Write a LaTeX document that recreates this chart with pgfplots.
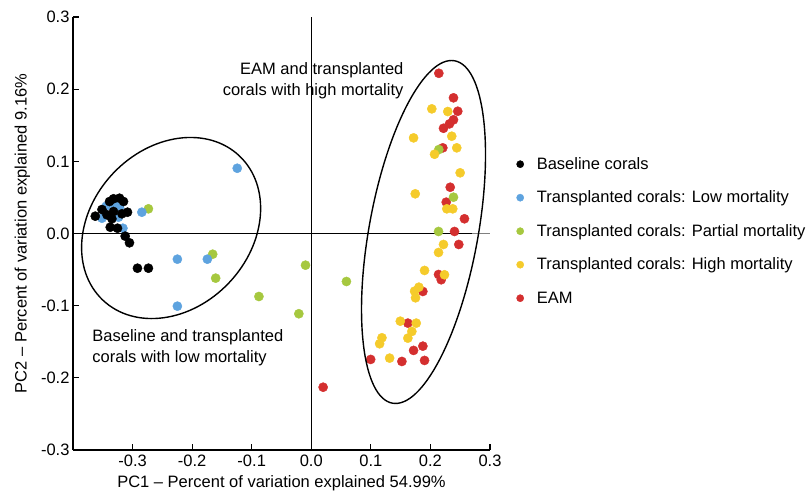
\documentclass[border=0pt]{standalone}
\usepackage{fontspec}
\setmainfont{Liberation Sans}
\usepackage{pgfplots}
\pgfplotsset{compat=1.18}

\definecolor{cBlue}{HTML}{5EA3DF}
\definecolor{cGreen}{HTML}{A6C83F}
\definecolor{cYellow}{HTML}{F5CB2B}
\definecolor{cRed}{HTML}{D42F2F}

\begin{document}
\begin{tikzpicture}[font=\fontsize{16.5}{21}\selectfont]
\begin{axis}[
  name=ax,
  scale only axis, width=417pt, height=433pt,
  xmin=-0.4, xmax=0.3, ymin=-0.3, ymax=0.3,
  axis x line=bottom, axis y line=left,
  axis line style={-, line width=1.2pt},
  tick align=inside, major tick length=6pt,
  tick style={line width=1.2pt, black},
  xtick={-0.3,-0.2,-0.1,0,0.1,0.2,0.3},
  ytick={-0.3,-0.2,-0.1,0,0.1,0.2,0.3},
  xticklabel style={yshift=-1.5pt},
  /pgf/number format/.cd, fixed, fixed zerofill, precision=1, assume math mode=true,
  /pgfplots/.cd,
  xlabel={PC1 -- Percent of variation explained 54.99\%},
  ylabel={PC2 -- Percent of variation explained 9.16\%},
  xlabel style={yshift=-2pt},
  ylabel style={yshift=4pt},
  legend style={at={(1.0633,0.679)}, anchor=north west, draw=none, fill=none,
    inner sep=0pt, row sep=17.5pt, column sep=13pt,
    nodes={inner sep=0pt, text height=13pt, text depth=3pt}},
  legend cell align=left,
  legend image code/.code={\draw[#1, mark size=3.6pt] plot coordinates {(0pt,0pt)};},
  every axis plot/.append style={only marks, mark=*, mark size=4.6pt},
]
\addlegendimage{only marks, mark=*, black}
\addlegendentry{Baseline corals}
\addlegendimage{only marks, mark=*, cBlue}
\addlegendentry{Transplanted corals: Low mortality}
\addlegendimage{only marks, mark=*, cGreen}
\addlegendentry{Transplanted corals: Partial mortality}
\addlegendimage{only marks, mark=*, cYellow}
\addlegendentry{Transplanted corals: High mortality}
\addlegendimage{only marks, mark=*, cRed}
\addlegendentry{EAM}

\draw[line width=0.9pt] (axis cs:0,-0.3) -- (axis cs:0,0.3);
\draw[line width=0.9pt] (axis cs:-0.4,0) -- (axis cs:0.27,0);
\draw[line width=0.9pt, gray] (axis cs:0.27,0) -- (axis cs:0.3,0);

% EAM
\addplot[forget plot, cRed] coordinates {
(0.2141,0.2220) (0.2387,0.1880) (0.2459,0.1694) (0.2387,0.1575) (0.2320,0.1519)
(0.2219,0.1458) (0.2208,0.1187) (0.2332,0.0641) (0.2265,0.0434) (0.2571,0.0204)
(0.2404,0.0028) (0.2476,-0.0152) (0.2136,-0.0568) (0.2181,-0.0641) (0.1873,-0.0803)
(0.1621,-0.1242) (0.1873,-0.1561) (0.1717,-0.1620) (0.0997,-0.1745) (0.1521,-0.1773)
(0.1901,-0.1759) (0.0199,-0.2130)
};
% partial mortality
\addplot[forget plot, cGreen] coordinates {
(-0.2734,0.0342) (-0.1655,-0.0287) (-0.1605,-0.0619) (-0.0879,-0.0873) (-0.0209,-0.1112)
(-0.0097,-0.0439) (0.0590,-0.0665) (0.2141,0.1163) (0.2387,0.0503) (0.2136,0.0028)
};
% high mortality
\addplot[forget plot, cYellow] coordinates {
(0.2023,0.1727) (0.2291,0.1690) (0.1717,0.1325) (0.2358,0.1348) (0.2442,0.1187)
(0.2069,0.1098) (0.2499,0.0841) (0.1745,0.0550) (0.2275,0.0342) (0.2375,0.0342)
(0.2219,-0.0152) (0.2136,-0.0263) (0.1901,-0.0512) (0.2236,-0.0572) (0.1806,-0.0744)
(0.1734,-0.0799) (0.1750,-0.0891) (0.1494,-0.1215) (0.1762,-0.1242) (0.1688,-0.1357)
(0.1621,-0.1450) (0.1186,-0.1445) (0.1147,-0.1528) (0.1315,-0.1727)
};
% low mortality
\addplot[forget plot, cBlue] coordinates {
(-0.3442,0.0378) (-0.3219,0.0364) (-0.3514,0.0212) (-0.3236,0.0226) (-0.2844,0.0295)
(-0.3162,0.0073) (-0.3300,0.0390) (-0.1243,0.0904) (-0.2248,-0.0356) (-0.1745,-0.0356)
(-0.2248,-0.1007)
};
% baseline
\addplot[forget plot, black] coordinates {
(-0.3626,0.0240) (-0.3514,0.0332) (-0.3430,0.0259) (-0.3347,0.0204) (-0.3387,0.0443)
(-0.3320,0.0481) (-0.3219,0.0489) (-0.3152,0.0443) (-0.3320,0.0305) (-0.3179,0.0273)
(-0.3085,0.0295) (-0.3375,0.0087) (-0.3253,0.0073) (-0.3124,-0.0037) (-0.3052,-0.0129)
(-0.2918,-0.0481) (-0.2734,-0.0481)
};

\coordinate (e1) at (axis cs:-0.2353,0.0076);
\coordinate (e2) at (axis cs:0.1884,0.0021);
\node[anchor=east, align=right, inner sep=0pt] at (axis cs:0.155,0.2116)
  {EAM and transplanted\\corals with high mortality};
\node[anchor=west, align=left, inner sep=0pt] at (axis cs:-0.3677,-0.1582)
  {Baseline and transplanted\\corals with low mortality};
\end{axis}
\draw[line width=1.4pt] (e1) circle [x radius=99.3pt, y radius=79.7pt, rotate=46.5];
\draw[line width=1.4pt] (e2) circle [x radius=174pt, y radius=54.5pt, rotate=79.7];
\pgfresetboundingbox
\path[use as bounding box] ([xshift=-73pt,yshift=-44pt]ax.south west) rectangle ([xshift=318pt,yshift=17pt]ax.north east);
\end{tikzpicture}
\end{document}
